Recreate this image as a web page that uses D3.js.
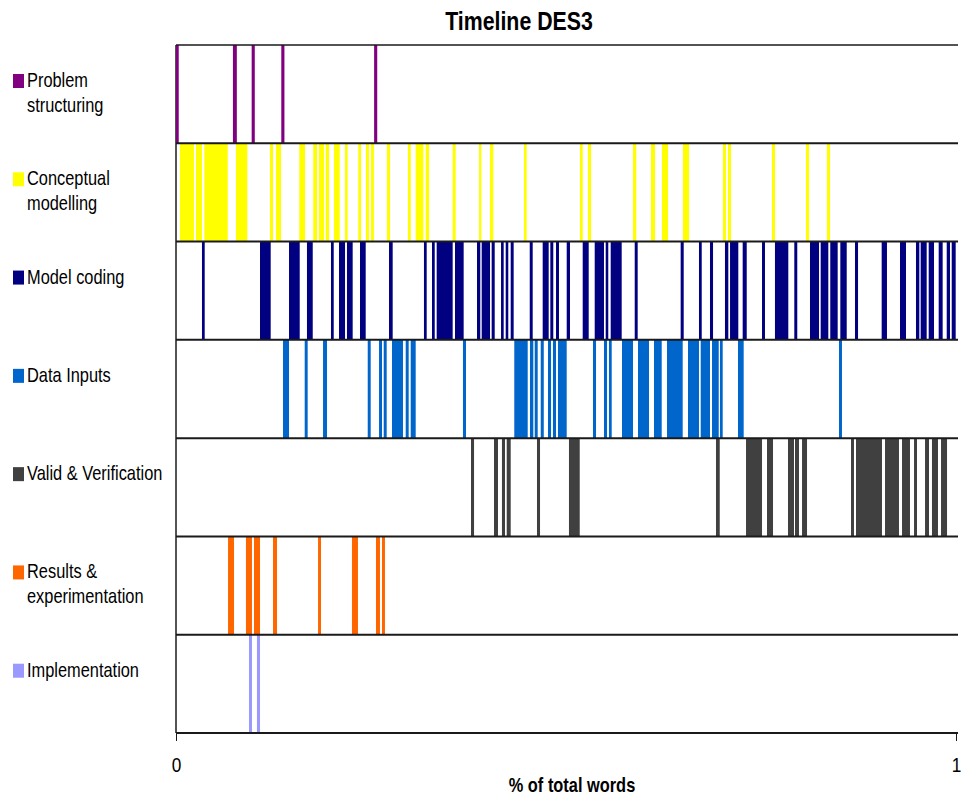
<!DOCTYPE html>
<html>
<head>
<meta charset="utf-8">
<script src="https://cdn.jsdelivr.net/npm/d3@7/dist/d3.min.js"></script>
<style>
  html, body { margin: 0; padding: 0; background: #fff; }
  svg { display: block; }
  text { font-family: "Liberation Sans", Arial, sans-serif; fill: #000; }
</style>
</head>
<body>
<svg id="chart" width="961" height="800"></svg>
<script>
const title = "Timeline DES3";
const xLabel = "% of total words";
const xTicks = [0, 1];

const categories = [
  ["Problem", "structuring"],
  ["Conceptual", "modelling"],
  ["Model coding"],
  ["Data Inputs"],
  ["Valid & Verification"],
  ["Results &", "experimentation"],
  ["Implementation"]
];
const colors = ["#800080", "#FFFF00", "#000080", "#0066CC", "#404040", "#FF6600", "#9999FF"];

// intervals [start, end] as fraction of total words
const problemStructuring = [[0.000,0.0035],[0.073,0.078],[0.097,0.101],[0.135,0.139],[0.254,0.258]];
const conceptualModelling = [
  [0.0051,0.0231],[0.0256,0.0333],[0.0363,0.0663],[0.0769,0.0914],[0.1205,0.1244],[0.1282,0.1346],
  [0.1581,0.1654],[0.1760,0.1808],[0.1833,0.1897],[0.1919,0.1962],[0.2026,0.2099],[0.2167,0.2201],
  [0.2337,0.2372],[0.2436,0.2474],[0.2500,0.2538],[0.2705,0.2744],[0.2974,0.3009],[0.3073,0.3171],
  [0.3201,0.3244],[0.3547,0.3586],[0.3885,0.3915],[0.4026,0.4068],[0.4462,0.4496],[0.5179,0.5214],
  [0.5282,0.5321],[0.5859,0.5901],[0.6090,0.6141],[0.6231,0.6308],[0.6500,0.6577],[0.7013,0.7051],
  [0.7077,0.7115],[0.7641,0.7679],[0.8077,0.8115],[0.8346,0.8385]
];
const modelCoding = [
  [0.0333,0.0368],[0.1077,0.1214],[0.1449,0.1586],[0.1679,0.1753],[0.1987,0.2022],[0.2090,0.2167],
  [0.2192,0.2265],[0.2359,0.2432],[0.2731,0.2778],[0.3179,0.3214],[0.3282,0.3317],[0.3342,0.3547],
  [0.3577,0.3688],[0.3859,0.3901],[0.3919,0.4026],[0.4047,0.4086],[0.4167,0.4201],[0.4227,0.4260],
  [0.4291,0.4329],[0.4535,0.4573],[0.4701,0.4778],[0.4799,0.4837],[0.4872,0.4910],[0.5009,0.5051],
  [0.5214,0.5291],[0.5368,0.5487],[0.5509,0.5542],[0.5573,0.5714],[0.5881,0.5919],[0.6470,0.6509],
  [0.6705,0.6740],[0.6846,0.6885],[0.7038,0.7081],[0.7103,0.7209],[0.7265,0.7317],[0.7513,0.7551],
  [0.7679,0.7850],[0.7927,0.7965],[0.8128,0.8244],[0.8265,0.8363],[0.8388,0.8483],[0.8517,0.8599],
  [0.8705,0.8744],[0.9047,0.9115],[0.9282,0.9359],[0.9487,0.9530],[0.9547,0.9624],[0.9650,0.9718],
  [0.9778,0.9829],[0.9881,0.9923],[0.9945,0.9996]
];
const dataInputs = [
  [0.1372,0.1449],[0.1650,0.1688],[0.1885,0.1936],[0.2458,0.2496],[0.2603,0.2641],[0.2663,0.2701],
  [0.2769,0.2910],[0.2945,0.2983],[0.3009,0.3073],[0.3679,0.3718],[0.4337,0.4509],[0.4538,0.4581],
  [0.4599,0.4637],[0.4676,0.4715],[0.4769,0.4808],[0.4833,0.4872],[0.4897,0.5009],[0.5346,0.5385],
  [0.5487,0.5526],[0.5551,0.5586],[0.5718,0.5859],[0.5923,0.6064],[0.6128,0.6227],[0.6295,0.6496],
  [0.6564,0.6705],[0.6727,0.6846],[0.6872,0.6958],[0.6974,0.7009],[0.7205,0.7278],[0.8500,0.8538]
];
const validVerification = [
  [0.3782,0.3821],[0.4077,0.4128],[0.4179,0.4218],[0.4240,0.4291],[0.4628,0.4667],[0.5038,0.5176],
  [0.6923,0.6971],[0.7308,0.7513],[0.7577,0.7654],[0.7846,0.7923],[0.7936,0.7987],[0.8026,0.8090],
  [0.8654,0.8692],[0.8718,0.9051],[0.9090,0.9269],[0.9308,0.9410],[0.9462,0.9500],[0.9603,0.9654],
  [0.9692,0.9769],[0.9808,0.9885]
];
const resultsExperimentation = [
  [0.0667,0.0744],[0.0897,0.0974],[0.1000,0.1077],[0.1244,0.1295],[0.1821,0.1859],[0.2256,0.2333],
  [0.2564,0.2615],[0.2641,0.2679]
];
const implementation = [[0.0936,0.0974],[0.1038,0.1077]];

const series = [problemStructuring, conceptualModelling, modelCoding, dataInputs,
                validVerification, resultsExperimentation, implementation];

const svg = d3.select("#chart");
const NARROW = 0.82;

const x = d3.scaleLinear().domain([0, 1]).range([176, 956]);
const y = d3.scaleBand().domain(d3.range(categories.length)).range([45, 733]).padding(0);

// left border (drawn beneath bars)
svg.append("line").attr("x1", 176).attr("x2", 176).attr("y1", 45).attr("y2", 733)
  .attr("stroke", "#1a1a1a").attr("stroke-width", 1.5);

// bars
series.forEach((arr, i) => {
  svg.append("g").selectAll("rect").data(arr).join("rect")
    .attr("x", d => x(d[0]))
    .attr("width", d => Math.max(2, x(d[1]) - x(d[0])))
    .attr("y", y(i))
    .attr("height", y.bandwidth())
    .attr("fill", colors[i]);
});

// row lines
const rowEdges = d3.range(categories.length + 1).map(i => i < categories.length ? y(i) : y(categories.length - 1) + y.bandwidth());
svg.append("g").selectAll("line").data(rowEdges).join("line")
  .attr("x1", 176).attr("x2", 958)
  .attr("y1", d => d).attr("y2", d => d)
  .attr("stroke", "#1a1a1a").attr("stroke-width", (d, i) => i === 0 ? 1.5 : 2);

// x axis
const axis = svg.append("g").attr("transform", "translate(0,733)")
  .call(d3.axisBottom(x).tickValues(xTicks).tickFormat(d3.format("d")).tickSize(8).tickPadding(16).tickSizeOuter(0));
axis.select(".domain").remove();
axis.selectAll(".tick line").attr("stroke", "#1a1a1a");
axis.selectAll(".tick text").attr("font-size", 21).attr("font-family", null).attr("fill", "#000")
  .attr("transform", `scale(${NARROW},1)`);

function narrowText(px, py, size, bold, anchor, str) {
  return svg.append("g").attr("transform", `translate(${px},${py}) scale(${NARROW},1)`)
    .append("text").attr("x", 0).attr("y", 0).attr("font-size", size)
    .attr("font-weight", bold ? "bold" : "normal").attr("text-anchor", anchor).text(str);
}

narrowText(572, 792, 20, true, "middle", xLabel);
narrowText(519, 30, 26, true, "middle", title);

// legend labels
categories.forEach((lines, i) => {
  const top = y(i);
  svg.append("rect").attr("x", 13).attr("y", top + 29).attr("width", 11).attr("height", 14)
    .attr("fill", colors[i]);
  lines.forEach((ln, j) => {
    narrowText(27, top + 42 + j * 25, 20, false, "start", ln);
  });
});
</script>
</body>
</html>
